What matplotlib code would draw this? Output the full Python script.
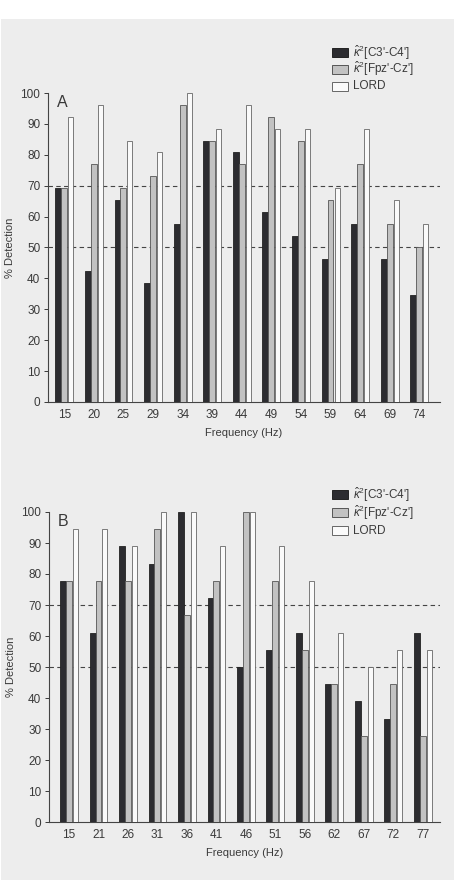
import matplotlib
matplotlib.use('Agg')
import matplotlib.pyplot as plt
import numpy as np
from matplotlib.patches import Rectangle

plt.rcParams['font.family'] = ['Liberation Sans', 'DejaVu Sans']
plt.rcParams['mathtext.fontset'] = 'custom'
plt.rcParams['mathtext.rm'] = 'Liberation Sans'
plt.rcParams['mathtext.it'] = 'Liberation Sans:italic'

# panel A
freqA = ['15', '20', '25', '29', '34', '39', '44', '49', '54', '59', '64', '69', '74']
c3c4A = [69.2, 42.3, 65.4, 38.5, 57.7, 84.6, 80.8, 61.5, 53.8, 46.2, 57.7, 46.2, 34.6]
fpzA = [69.2, 76.9, 69.2, 73.1, 96.2, 84.6, 76.9, 92.3, 84.6, 65.4, 76.9, 57.7, 50.0]
lordA = [92.3, 96.2, 84.6, 80.8, 100.0, 88.5, 96.2, 88.5, 88.5, 69.2, 88.5, 65.4, 57.7]

# panel B
freqB = ['15', '21', '26', '31', '36', '41', '46', '51', '56', '62', '67', '72', '77']
c3c4B = [77.8, 61.1, 88.9, 83.3, 100.0, 72.2, 50.0, 55.6, 61.1, 44.4, 38.9, 33.3, 61.1]
fpzB = [77.8, 77.8, 77.8, 94.4, 66.7, 77.8, 100.0, 77.8, 55.6, 44.4, 27.8, 44.4, 27.8]
lordB = [94.4, 94.4, 88.9, 100.0, 100.0, 88.9, 100.0, 88.9, 77.8, 61.1, 50.0, 55.6, 55.6]

labels = [r"$\hat{\kappa}^2$[C3'-C4']", r"$\hat{\kappa}^2$[Fpz'-Cz']", 'LORD']
bg = '#ededed'
dark = '#2c2c30'
grey = '#c2c2c2'
white = '#fafafa'
txt = '#3a3a3a'
fills = [dark, grey, white]
edges = ['#222222', '#555555', '#666666']

W, H = 454, 880
fig = plt.figure(figsize=(W/100, H/100), dpi=100, facecolor='white')
fig.patches.append(Rectangle((1/W, 0), 1, (H-19)/H, transform=fig.transFigure,
                             facecolor=bg, edgecolor='none', zorder=-10))

def legend_box(top, step):
    # hand-placed legend so the rows stay evenly spaced despite the mathtext
    for i, lab in enumerate(labels):
        yc = top + i * step
        fig.patches.append(Rectangle((332/W, 1 - (yc + 4.5)/H), 16/W, 9/H,
                                     transform=fig.transFigure, facecolor=fills[i],
                                     edgecolor=edges[i], lw=0.7))
        fig.text(353/W, 1 - yc/H, lab, fontsize=8.5, color=txt, ha='left', va='center')

def panel(rect, freqs, a, b, c, letter, xlim):
    ax = fig.add_axes(rect)
    ax.patch.set_visible(False)
    x = np.arange(len(freqs))
    w = 0.2
    ax.bar(x - w, a, w, color=fills[0], edgecolor=edges[0], linewidth=0.6, zorder=3)
    ax.bar(x, b, w, color=fills[1], edgecolor=edges[1], linewidth=0.6, zorder=3)
    ax.bar(x + w + 0.02, c, w * 0.85, color=fills[2], edgecolor=edges[2], linewidth=0.6, zorder=3)
    for yy in (50, 70):
        ax.axhline(yy, color='#444444', lw=0.8, ls=(0, (4, 3)), zorder=2)
    ax.set_xlim(*xlim)
    ax.set_ylim(0, 100)
    ax.set_yticks(range(0, 101, 10))
    ax.set_xticks(x)
    ax.set_xticklabels(freqs)
    ax.tick_params(axis='x', length=0, pad=5, labelsize=8.5, colors=txt)
    ax.tick_params(axis='y', length=3, width=0.7, pad=2.5, labelsize=8.5, colors=txt, direction='out')
    for s in ('top', 'right'):
        ax.spines[s].set_visible(False)
    for s in ('left', 'bottom'):
        ax.spines[s].set_color('#444444')
        ax.spines[s].set_linewidth(0.8)
    ax.set_ylabel('% Detection', fontsize=8, color=txt, labelpad=4)
    ax.set_xlabel('Frequency (Hz)', fontsize=8, color=txt, labelpad=5)
    ax.text(0.022, 0.995, letter, transform=ax.transAxes, fontsize=11.5, color=txt,
            ha='left', va='top')
    return ax

panel([48/W, 478/H, 392/W, 309/H], freqA, c3c4A, fpzA, lordA, 'A', (-0.55, 12.7))
panel([49/W, 58/H, 391/W, 310/H], freqB, c3c4B, fpzB, lordB, 'B', (-0.68, 12.59))
legend_box(52.5, 16.8)
legend_box(495, 17.8)

fig.savefig('out.png', dpi=100, facecolor=fig.get_facecolor())
